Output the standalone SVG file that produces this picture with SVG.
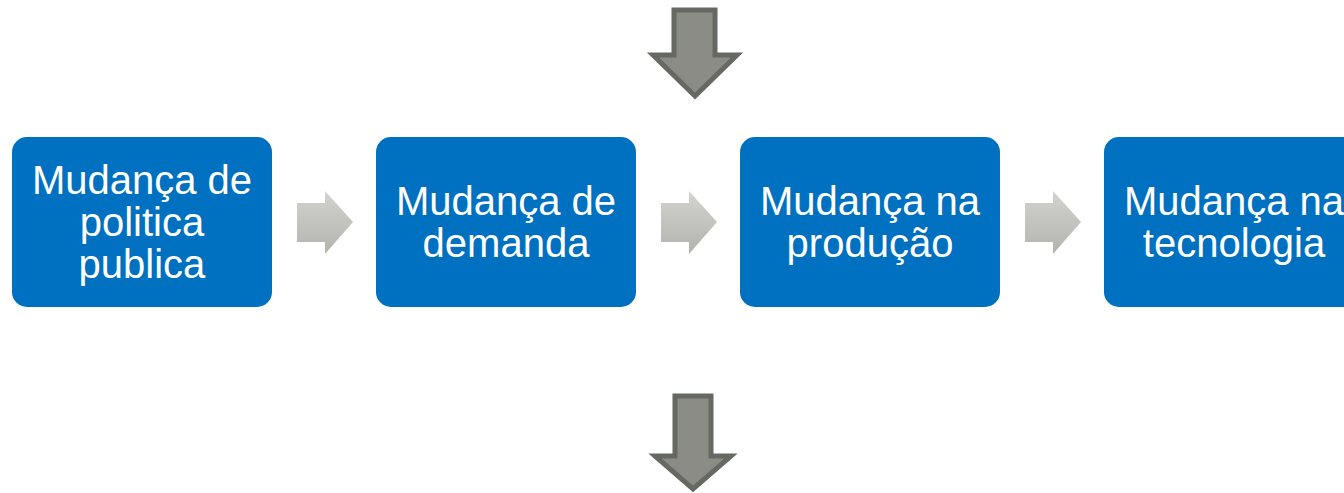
<svg xmlns="http://www.w3.org/2000/svg" width="1344" height="493" viewBox="0 0 1344 493">
<defs>
<linearGradient id="ag" x1="0" y1="0" x2="0" y2="1">
<stop offset="0" stop-color="#d3d3cf"/>
<stop offset="1" stop-color="#b3b3ae"/>
</linearGradient>
<style>
.box{fill:#0070c0;}
.t{font-family:"Liberation Sans",Arial,sans-serif;font-size:40px;fill:#ffffff;text-anchor:middle;}
.ra{fill:url(#ag);}
.da{fill:#8b8c86;stroke:#666862;stroke-width:5;stroke-linejoin:miter;}
</style>
</defs>
<g id="connectors">
<path class="ra" d="M297,203 H325 V191 L353,222 L325,254 V242 H297 Z"/>
<path class="ra" d="M661,203 H689 V191 L717,222 L689,254 V242 H661 Z"/>
<path class="ra" d="M1025,203 H1053 V191 L1081,222 L1053,254 V242 H1025 Z"/>
<path class="da" d="M674,10 H715 V55 H737 L695,96 L653,55 H674 Z"/>
<path class="da" d="M675,396 H711 V456 H731 L693,489 L655,456 H675 Z"/>
</g>
<g id="n1">
<rect class="box" x="12" y="137" width="260" height="170" rx="15"/>
<text class="t" x="142" y="194">Mudança de</text>
<text class="t" x="142" y="236">politica</text>
<text class="t" x="142" y="278">publica</text>
</g>
<g id="n2">
<rect class="box" x="376" y="137" width="260" height="170" rx="15"/>
<text class="t" x="506" y="215">Mudança de</text>
<text class="t" x="506" y="257">demanda</text>
</g>
<g id="n3">
<rect class="box" x="740" y="137" width="260" height="170" rx="15"/>
<text class="t" x="870" y="215">Mudança na</text>
<text class="t" x="870" y="257">produção</text>
</g>
<g id="n4">
<rect class="box" x="1104" y="137" width="260" height="170" rx="15"/>
<text class="t" x="1234" y="215">Mudança na</text>
<text class="t" x="1234" y="257">tecnologia</text>
</g>
</svg>
